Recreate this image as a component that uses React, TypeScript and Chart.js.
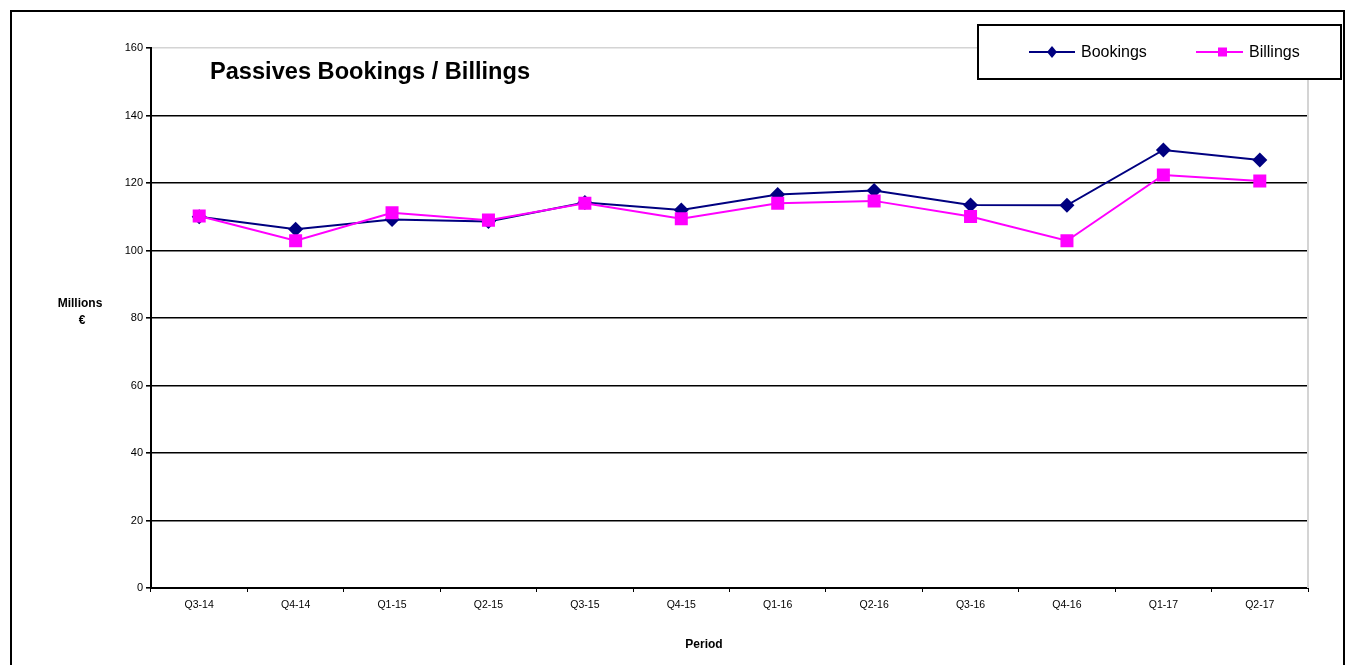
import React, { useEffect, useRef } from "react";
import { Chart, registerables } from "chart.js";

Chart.register(...registerables);

const periods = ["Q3-14", "Q4-14", "Q1-15", "Q2-15", "Q3-15", "Q4-15", "Q1-16", "Q2-16", "Q3-16", "Q4-16", "Q1-17", "Q2-17"];
const bookings = [110, 106.3, 109.2, 108.6, 114.2, 112, 116.6, 117.8, 113.5, 113.4, 129.8, 126.8];
const billings = [110.2, 102.9, 111.2, 109.0, 114.0, 109.4, 114.0, 114.7, 110.1, 102.9, 122.4, 120.6];
const chartTitle = "Passives Bookings / Billings";
const yTitle = ["Millions", "€"];
const xTitle = "Period";
const seriesNames = ["Bookings", "Billings"];

const NAVY = "#000080";
const MAGENTA = "#FF00FF";
const FONT = "'Liberation Sans', Arial, sans-serif";

const overlayPlugin = {
  id: "overlay",
  afterDraw(chart: any) {
    const ctx = chart.ctx as CanvasRenderingContext2D;
    const a = chart.chartArea;
    ctx.save();
    // right plot border (light grey)
    ctx.strokeStyle = "#d4d4d4";
    ctx.lineWidth = 2;
    ctx.beginPath();
    ctx.moveTo(a.right, a.top);
    ctx.lineTo(a.right, a.bottom);
    ctx.stroke();

    // outer frame
    ctx.strokeStyle = "#000";
    ctx.lineWidth = 2;
    ctx.strokeRect(11, 11, 1333, 720);

    // title
    ctx.fillStyle = "#000";
    ctx.font = `bold 23.5px ${FONT}`;
    ctx.textAlign = "left";
    ctx.textBaseline = "alphabetic";
    const tw = ctx.measureText(chartTitle).width;
    const target = 320;
    ctx.save();
    ctx.translate(a.left + 59, 78.5);
    ctx.scale(target / tw, 1);
    ctx.fillText(chartTitle, 0, 0);
    ctx.restore();

    // y title
    ctx.textBaseline = "middle";
    ctx.font = `bold 12px ${FONT}`;
    ctx.textAlign = "center";
    ctx.fillText(yTitle[0], 80, 304);
    ctx.fillText(yTitle[1], 82, 321);

    // x title
    ctx.fillText(xTitle, 704, 645);

    // legend box
    ctx.fillStyle = "#fff";
    ctx.fillRect(978, 25, 363, 54);
    ctx.strokeStyle = "#000";
    ctx.lineWidth = 2;
    ctx.strokeRect(978, 25, 363, 54);

    const ly = 52;
    // Bookings
    ctx.strokeStyle = NAVY;
    ctx.lineWidth = 2;
    ctx.beginPath();
    ctx.moveTo(1029, ly);
    ctx.lineTo(1075, ly);
    ctx.stroke();
    ctx.fillStyle = NAVY;
    ctx.beginPath();
    ctx.moveTo(1052, ly - 6);
    ctx.lineTo(1057, ly);
    ctx.lineTo(1052, ly + 6);
    ctx.lineTo(1047, ly);
    ctx.closePath();
    ctx.fill();
    // Billings
    ctx.strokeStyle = MAGENTA;
    ctx.beginPath();
    ctx.moveTo(1196, ly);
    ctx.lineTo(1243, ly);
    ctx.stroke();
    ctx.fillStyle = MAGENTA;
    ctx.fillRect(1218, ly - 4.5, 9, 9);

    ctx.fillStyle = "#000";
    ctx.font = `16px ${FONT}`;
    ctx.textAlign = "left";
    ctx.textBaseline = "middle";
    ctx.fillText(seriesNames[0], 1081, ly + 1);
    ctx.fillText(seriesNames[1], 1249, ly + 1);
    ctx.restore();
  },
};

export default function App() {
  const ref = useRef<HTMLCanvasElement | null>(null);
  useEffect(() => {
    if (!ref.current) return;
    const chart = new Chart(ref.current, {
      type: "line",
      data: {
        labels: periods,
        datasets: [
          {
            label: seriesNames[0],
            data: bookings,
            borderColor: NAVY,
            backgroundColor: NAVY,
            borderWidth: 2,
            pointStyle: "rectRot",
            pointRadius: 7.5,
            pointBorderWidth: 0,
            tension: 0,
            order: 2,
          },
          {
            label: seriesNames[1],
            data: billings,
            borderColor: MAGENTA,
            backgroundColor: MAGENTA,
            borderWidth: 2,
            pointStyle: "rect",
            pointRadius: 9.2,
            pointBorderWidth: 0,
            tension: 0,
            order: 1,
          },
        ],
      },
      options: {
        responsive: false,
        animation: false,
        layout: { padding: { top: 48, right: 40, left: 0, bottom: 0 } },
        plugins: {
          legend: { display: false },
          title: { display: false },
          tooltip: { enabled: false },
        },
        scales: {
          x: {
            offset: true,
            grid: {
              offset: true,
              drawOnChartArea: false,
              drawTicks: true,
              tickLength: 4,
              color: "#000",
              lineWidth: 1,
            },
            border: { color: "#000", width: 2 },
            ticks: {
              color: "#000",
              font: { family: FONT, size: 10.5 },
              padding: 7,
              maxRotation: 0,
            },
            afterFit: (s: any) => {
              s.height = 77;
            },
          },
          y: {
            min: 0,
            max: 160,
            ticks: {
              stepSize: 20,
              color: "#000",
              font: { family: FONT, size: 11 },
              padding: 3,
            },
            grid: {
              color: (c: any) => (c.tick && c.tick.value === 160 ? "#d4d4d4" : "#000"),
              tickColor: "#000",
              lineWidth: 1.6,
              tickLength: 5,
            },
            border: { color: "#000", width: 2 },
            afterFit: (s: any) => {
              s.width = 151;
            },
          },
        },
      },
      plugins: [overlayPlugin],
    });
    return () => chart.destroy();
  }, []);
  return (
    <div style={{ position: "absolute", left: 0, top: 0, width: 1348, height: 665, overflow: "hidden", background: "#fff" }}>
      <canvas ref={ref} width={1348} height={665} style={{ display: "block" }} />
    </div>
  );
}
